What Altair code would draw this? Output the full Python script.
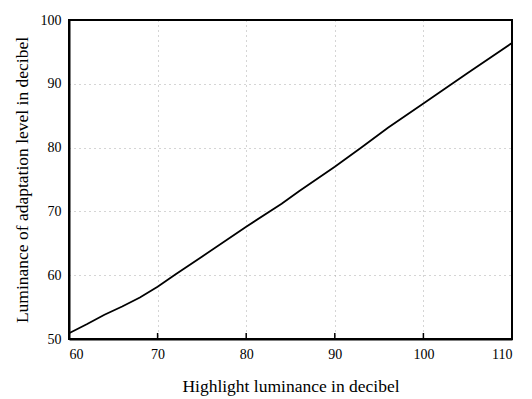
import altair as alt
import pandas as pd

highlight_db = [60, 62, 64, 66, 68, 70, 72, 75, 80, 84, 86, 90, 93, 96, 100, 105, 110]
adaptation_db = [50.9, 52.3, 53.8, 55.1, 56.5, 58.2, 60.1, 62.9, 67.6, 71.2, 73.2, 77.0, 80.0, 83.1, 86.9, 91.7, 96.4]
x_ticks = [60, 70, 80, 90, 100, 110]
y_ticks = [50, 60, 70, 80, 90, 100]

df = pd.DataFrame({"x": highlight_db, "y": adaptation_db})
xt = pd.DataFrame({"x": x_ticks})
frame_df = pd.DataFrame({"k": [0]})

FONT = "Liberation Serif"
W, H = 443, 319

xscale = alt.Scale(domain=[60, 110], nice=False, zero=False)
yscale = alt.Scale(domain=[50, 100], nice=False, zero=False)

line = alt.Chart(df).mark_line(color="#000000", strokeWidth=1.8).encode(
    x=alt.X("x:Q", scale=xscale,
            axis=alt.Axis(title="Highlight luminance in decibel", values=x_ticks, titlePadding=16)),
    y=alt.Y("y:Q", scale=yscale,
            axis=alt.Axis(title="Luminance of adaptation level in decibel", values=y_ticks, titlePadding=9)),
)

xticks = alt.Chart(xt).mark_rule(color="#000000", strokeWidth=1.5).encode(
    x=alt.X("x:Q", scale=xscale), y=alt.value(H - 6), y2=alt.value(H)
)
frame = alt.Chart(frame_df).mark_rect(filled=False, stroke="#000000", strokeWidth=2).encode(
    x=alt.value(0), x2=alt.value(W), y=alt.value(0), y2=alt.value(H)
)

chart = alt.layer(line, xticks, frame).properties(
    width=W, height=H
).configure_view(
    stroke="#000000", strokeWidth=2
).configure_axis(
    grid=True, gridColor="#aaaaaa", gridDash=[1, 4], gridWidth=1,
    ticks=False, domain=True, domainColor="#000000", domainWidth=2,
    labelPadding=8, labelFont=FONT, labelFontSize=14, labelColor="#000000",
    titleFont=FONT, titleFontSize=17.5, titleFontWeight="normal", titleColor="#000000",
)

chart.save("out.html", embed_options={"renderer": "svg", "actions": False})
